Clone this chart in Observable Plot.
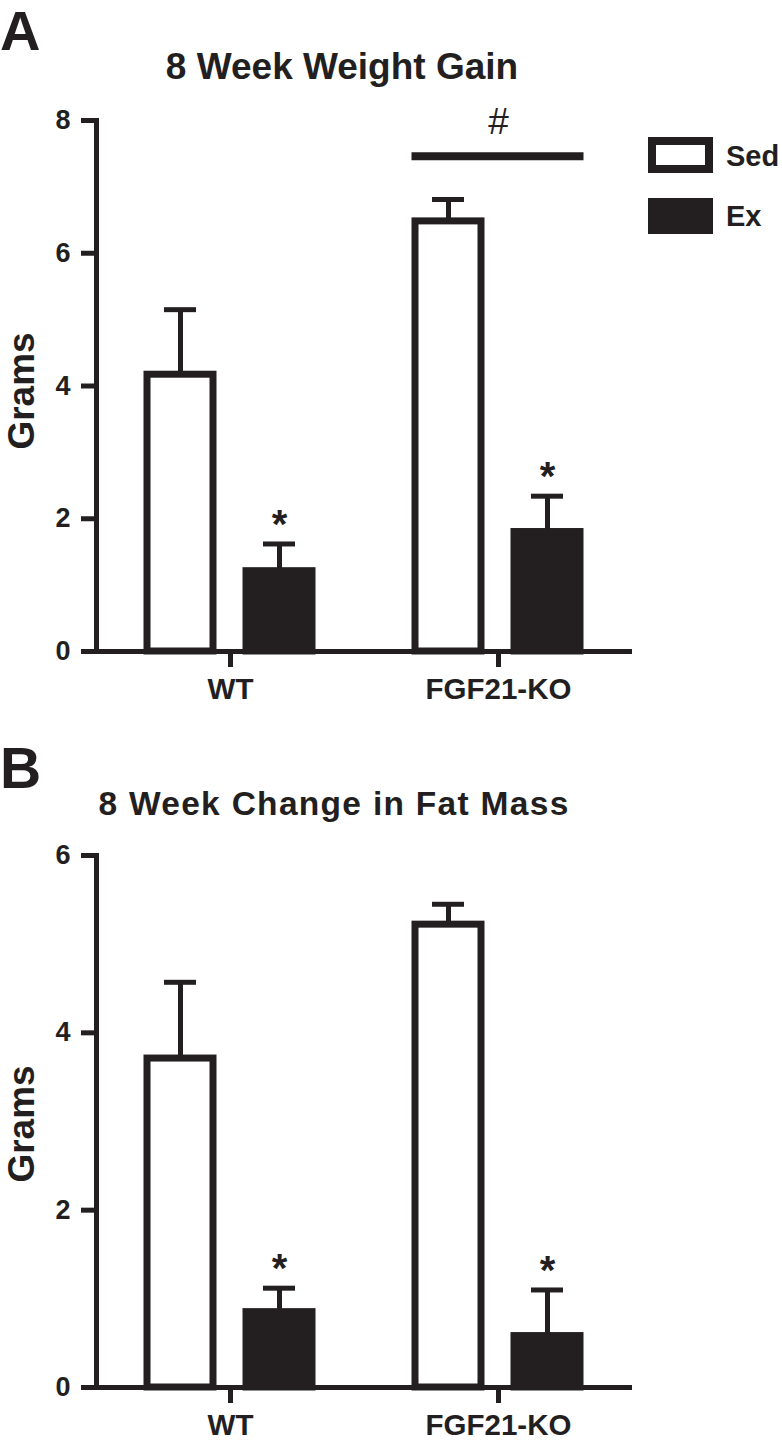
<!DOCTYPE html>
<html><head><meta charset="utf-8">
<script src="https://cdn.jsdelivr.net/npm/d3@7"></script>
<script src="https://cdn.jsdelivr.net/npm/@observablehq/plot@0.6"></script>
<style>
body{margin:0;background:#fff;}
#fig{position:relative;width:782px;height:1448px;overflow:hidden;font-family:"Liberation Sans",Arial,Helvetica,sans-serif;font-weight:bold;color:#231f20;background:#fff;}
.t{position:absolute;line-height:1;white-space:nowrap;}
</style></head><body><div id="fig"></div>
<script>
const INK = "#231f20";
const FONT = '"Liberation Sans", Arial, Helvetica, sans-serif';

// Categories
const groups = ["WT", "FGF21-KO"];
const conditions = ["Sed", "Ex"];
const conditionFill = ["white", INK];

// Panel A: 8 Week Weight Gain (grams); order WT-Sed, WT-Ex, KO-Sed, KO-Ex
const weightMean = [4.17, 1.21, 6.48, 1.80];
const weightSEM  = [0.98, 0.41, 0.33, 0.54];
const weightStar = [false, true, false, true];
const weightTicks = [0, 2, 4, 6, 8];
const weightMax = 8;
// Panel A significance bar (#) over FGF21-KO
const sigGroup = ["FGF21-KO"];
const sigLineY = [7.46];
const sigTextY = [7.80];
const sigText = ["#"];

// Panel B: 8 Week Change in Fat Mass (grams)
const fatMean = [3.71, 0.85, 5.22, 0.58];
const fatSEM  = [0.86, 0.27, 0.23, 0.52];
const fatStar = [false, true, false, true];
const fatTicks = [0, 2, 4, 6];
const fatMax = 6;

function rows(mean, sem, star) {
  return mean.map((m, i) => ({
    group: groups[Math.floor(i / 2)],
    cond: conditions[i % 2],
    mean: m,
    hi: m + sem[i],
    star: star[i]
  }));
}

function panel(data, ticks, yMax, height, extra) {
  return Plot.plot({
    width: 782, height,
    marginTop: 120, marginBottom: 60, marginLeft: 95, marginRight: 150,
    style: {fontFamily: FONT, color: INK, background: "transparent", overflow: "visible"},
    fx: {domain: groups, padding: 0, label: null},
    x: {domain: conditions, paddingInner: 0.333, paddingOuter: 0.507, axis: null},
    y: {domain: [0, yMax], axis: null},
    color: {domain: conditions, range: conditionFill},
    marks: [
      Plot.ruleX(data, {fx: "group", x: "cond", y1: "mean", y2: "hi", stroke: INK, strokeWidth: 5}),
      Plot.tickY(data, {fx: "group", x: "cond", y: "hi", stroke: INK, strokeWidth: 5, insetLeft: 17, insetRight: 17}),
      Plot.barY(data, {fx: "group", x: "cond", y: "mean", fill: "cond", stroke: INK, strokeWidth: 7}),
      Plot.ruleY([0], {stroke: INK, strokeWidth: 5}),
      Plot.frame({anchor: "left", facetAnchor: "left", stroke: INK, strokeWidth: 5}),
      Plot.axisY({ticks, tickSize: 15, tickPadding: 11, tickFormat: d => String(d), fontSize: 27, fontWeight: "bold", stroke: INK, strokeWidth: 5, fill: INK, label: null}),
      Plot.axisFx({anchor: "bottom", tickSize: 16, tickPadding: 11, fontSize: 29.5, fontWeight: "bold", stroke: INK, strokeWidth: 5, fill: INK, label: null}),
      Plot.text(data.filter(d => d.star), {fx: "group", x: "cond", y: "hi", text: () => "*", dy: -6, lineAnchor: "bottom", fontSize: 40, fontWeight: "bold", fill: INK}),
      ...extra
    ]
  });
}

const fig = document.getElementById("fig");

const sig = sigGroup.map((g, i) => ({group: g, y: sigLineY[i], ty: sigTextY[i], label: sigText[i]}));

const svgA = panel(rows(weightMean, weightSEM, weightStar), weightTicks, weightMax, 711, [
  Plot.ruleY(sig, {fx: "group", y: "y", x1: () => conditions[0], x2: () => conditions[1], stroke: INK, strokeWidth: 8, insetLeft: -3.5, insetRight: -3.5}),
  Plot.text(sig, {fx: "group", y: "ty", text: "label", lineAnchor: "bottom", fontSize: 37, fontWeight: "normal", fill: INK})
]);
svgA.style.position = "absolute"; svgA.style.left = "0px"; svgA.style.top = "0px";
fig.appendChild(svgA);

const svgB = panel(rows(fatMean, fatSEM, fatStar), fatTicks, fatMax, 712, []);
svgB.style.position = "absolute"; svgB.style.left = "0px"; svgB.style.top = "735px";
fig.appendChild(svgB);

function addText(txt, size, baseline, opts = {}) {
  const d = document.createElement("div");
  d.className = "t";
  d.textContent = txt;
  d.style.fontSize = size + "px";
  d.style.top = (baseline - 0.8465 * size) + "px";
  if (opts.center != null) { d.style.left = opts.center + "px"; d.style.transform = "translateX(-50%)"; }
  else d.style.left = (opts.left || 0) + "px";
  if (opts.spacing) d.style.letterSpacing = opts.spacing + "px";
  if (opts.weight) d.style.fontWeight = opts.weight;
  fig.appendChild(d);
  return d;
}

function addYLabel(txt, cx, cy) {
  const d = document.createElement("div");
  d.className = "t";
  d.textContent = txt;
  d.style.fontSize = "37px";
  d.style.left = cx + "px";
  d.style.top = cy + "px";
  d.style.transform = "translate(-50%,-50%) rotate(-90deg)";
  fig.appendChild(d);
}

// Panel letters and titles
addText("A", 56, 50, {left: 0});
addText("8 Week Weight Gain", 37, 79, {center: 342});
addText("B", 57, 788, {left: 0});
addText("8 Week Change in Fat Mass", 33.5, 815, {center: 334, spacing: 1.3});

// Y labels
addYLabel("Grams", 21, 391);
addYLabel("Grams", 21, 1124);

// Legend
conditions.forEach((c, i) => {
  const box = document.createElement("div");
  box.style.position = "absolute";
  box.style.left = "648px";
  box.style.top = (137 + i * 61) + "px";
  box.style.width = "65px";
  box.style.height = "36px";
  box.style.boxSizing = "border-box";
  box.style.border = "8px solid " + INK;
  box.style.background = conditionFill[i];
  fig.appendChild(box);
  addText(c, 29, 166.7 + i * 60.3, {left: 726});
});
</script></body></html>
